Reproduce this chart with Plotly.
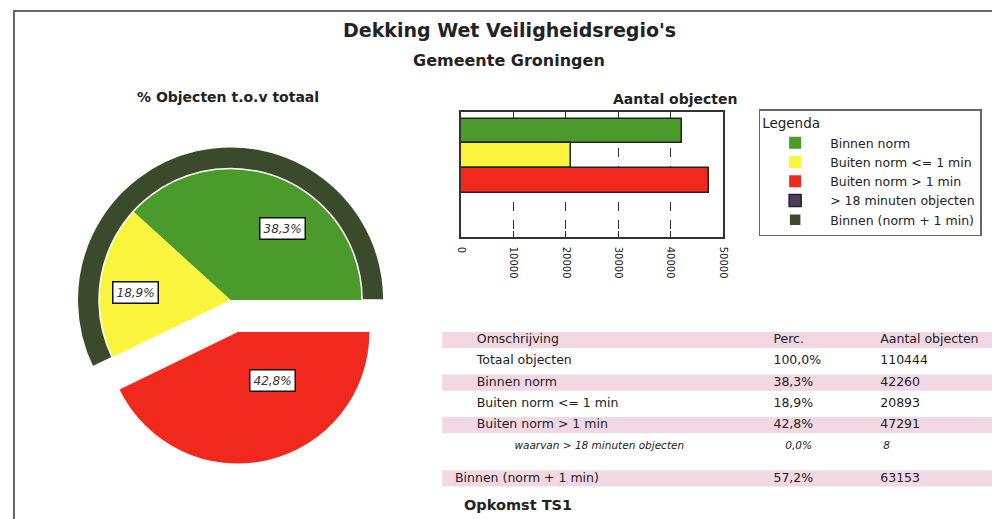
import plotly.graph_objects as go

# browser body margin is 8px, so the figure fills the rest of the 1000x519 window
OFF = 8
W, H = 1000 - OFF, 519 - OFF

# ---------------- data ----------------
categories = ["Binnen norm", "Buiten norm <= 1 min", "Buiten norm > 1 min", "> 18 minuten objecten"]
counts = [42260, 20893, 47291, 8]
percents = [38.3, 18.9, 42.8, 0.0]
total_label = "Totaal objecten"
total_count = 110444
total_pct = 100.0
sub_label = "waarvan > 18 minuten objecten"
combined_label = "Binnen (norm + 1 min)"
combined_count = 63153
combined_pct = 57.2
x_ticks = [0, 10000, 20000, 30000, 40000, 50000]
table_header = ["Omschrijving", "Perc.", "Aantal objecten"]

# ---------------- style ----------------
FONT = "DejaVu Sans"
TXT = "#222222"
GREEN = "#4a9a2c"
YELLOW = "#faf53c"
RED = "#f0281e"
PURPLE = "#4b3f5d"
DKGREEN = "#3a4a2a"
PINK = "#f2d8e2"
bar_colors = [GREEN, YELLOW, RED, PURPLE]


def px(x):
    """screen x (px) -> paper fraction"""
    return (x - OFF) / W


def py(y):
    """screen y (px, from top) -> paper fraction"""
    return 1 - (y - OFF) / H


def fmt_pct(p):
    return f"{p:.1f}".replace(".", ",") + "%"


fig = go.Figure()

# ---- pie: inner slices (red pulled out), counter-clockwise from 3 o'clock ----
cx, cy = 228, 300
r_in, r_out, pull = 133, 155, 0.25
half_in = r_in * (1 + pull)
inner_vals = counts[:3]
inner_rot = 90 - 360 * inner_vals[0] / sum(inner_vals)
fig.add_trace(go.Pie(
    labels=categories[:3], values=inner_vals,
    marker=dict(colors=bar_colors[:3], line=dict(width=0)),
    pull=[0, 0, pull], rotation=inner_rot, direction="counterclockwise", sort=False,
    textinfo="none", hoverinfo="label+value+percent",
    domain=dict(x=[px(cx - half_in), px(cx + half_in)], y=[py(cy + half_in), py(cy - half_in)]),
    legendrank=1,
))
# ---- outer ring: Binnen (norm + 1 min) ----
ring_vals = [combined_count, counts[2]]
ring_rot = 90 - 360 * ring_vals[0] / sum(ring_vals)
fig.add_trace(go.Pie(
    labels=[combined_label, categories[2]], values=ring_vals,
    marker=dict(colors=[DKGREEN, "rgba(0,0,0,0)"], line=dict(color="white", width=[1.5, 0])),
    hole=r_in / r_out, rotation=ring_rot, direction="counterclockwise", sort=False,
    textinfo="none", hoverinfo="label+value",
    domain=dict(x=[px(cx - r_out), px(cx + r_out)], y=[py(cy + r_out), py(cy - r_out)]),
    legendrank=3,
))

# ---- bars ----
for i, (cat, val) in enumerate(zip(categories, counts)):
    fig.add_trace(go.Bar(
        y=[cat], x=[val], orientation="h", name=cat,
        marker=dict(color=bar_colors[i], line=dict(color="#222", width=1.5)),
        showlegend=(i == 3), legendrank=2, xaxis="x", yaxis="y",
        hoverinfo="x+name",
    ))

# ---- summary table (text on a hidden axis pair, rows by index) ----
col_desc = [table_header[0], total_label] + categories[:3] + [sub_label, combined_label]
col_perc = [table_header[1], fmt_pct(total_pct)] + [fmt_pct(p) for p in percents] + [fmt_pct(combined_pct)]
col_cnt = [table_header[2], str(total_count)] + [str(c) for c in counts] + [str(combined_count)]
# layout of the rows / columns
row_pos = [0, 1, 2, 3, 4, 5, 6.5]
row_italic = [False, False, False, False, False, True, False]
row_size = [12.5, 12.5, 12.5, 12.5, 12.5, 10.5, 12.5]
row_band = [True, False, True, False, True, False, True]
col_x = [
    [477, 477, 477, 477, 477, 515, 455],
    [777, 777, 777, 777, 777, 789, 777],
    [885, 885, 885, 885, 885, 888, 885],
]
for xs, texts in zip(col_x, [col_desc, col_perc, col_cnt]):
    fig.add_trace(go.Scatter(
        x=xs, y=row_pos, mode="text",
        text=[("<i>" + t + "</i>") if it else t for t, it in zip(texts, row_italic)],
        textposition="middle right", marker=dict(size=0.1),
        textfont=dict(family=FONT, size=row_size, color=TXT),
        xaxis="x2", yaxis="y2", showlegend=False, hoverinfo="skip", cliponaxis=False,
    ))

row_h = 21.3
row0_y = 340
band_half = 0.38
shapes = [dict(type="rect", xref="paper", yref="y2", x0=px(442), x1=1,
               y0=r - band_half, y1=r + band_half, fillcolor=PINK, line=dict(width=0),
               layer="below")
          for r, b in zip(row_pos, row_band) if b]
shapes.append(dict(type="path", xref="paper", yref="paper",
                   path=f"M {px(9)},0 L {px(9)},{py(11)} L 1,{py(11)}",
                   line=dict(color="#666", width=2)))

# ---- annotations ----
ann = [
    dict(text="Dekking Wet Veiligheidsregio's", x=510, y=30, size=19),
    dict(text="Gemeente Groningen", x=510, y=60, size=16),
    dict(text="% Objecten t.o.v totaal", x=225, y=97, size=14),
    dict(text="Opkomst TS1", x=462, y=505, size=14.5, xanchor="left"),
    dict(text="Aantal objecten", x=742, y=99, size=14, xanchor="right"),
]
annotations = []
for a in ann:
    annotations.append(dict(
        text="<b>" + a["text"] + "</b>",
        x=px(a["x"]), y=py(a["y"]), xref="paper", yref="paper", showarrow=False,
        xanchor=a.get("xanchor", "center"), yanchor="middle",
        font=dict(family=FONT, size=a["size"], color=TXT),
    ))
label_pos = [(281, 229), (132, 292), (270, 380)]
for p, (lx, ly) in zip(percents[:3], label_pos):
    annotations.append(dict(
        text="<i>" + fmt_pct(p) + "</i>", x=px(lx), y=py(ly), xref="paper", yref="paper",
        showarrow=False, xanchor="center", yanchor="middle",
        bgcolor="white", bordercolor="#111", borderwidth=1.5, borderpad=3,
        font=dict(family=FONT, size=12, color="#333"),
    ))

y2_top = row0_y - row_h / 2
y2_bot = row0_y + row_h * 6.5 + row_h / 2
fig.update_layout(
    width=W, height=H,
    margin=dict(l=0, r=0, t=0, b=0),
    paper_bgcolor="white", plot_bgcolor="rgba(0,0,0,0)",
    barmode="overlay", bargap=0,
    xaxis=dict(domain=[px(461), px(726)], range=[0, 50000], tickvals=x_ticks, tickformat="d",
               tickangle=90, showgrid=True, gridcolor="#333", gridwidth=1.3, griddash="dash",
               showline=True, linecolor="#333", linewidth=1.5, mirror="ticks",
               ticks="inside", ticklen=6, tickcolor="#333", zeroline=False,
               tickfont=dict(family=FONT, size=10, color=TXT), anchor="y",
               ticklabelstandoff=6, fixedrange=True),
    yaxis=dict(domain=[py(237), py(112)], type="category",
               categoryorder="array", categoryarray=categories,
               range=[4.29, -0.77], showticklabels=False, ticks="",
               showline=True, linecolor="#333", linewidth=1.5, mirror=True,
               showgrid=False, zeroline=False, anchor="x", fixedrange=True),
    xaxis2=dict(domain=[0, 1], range=[OFF, 1000], visible=False, anchor="y2", fixedrange=True),
    yaxis2=dict(domain=[py(y2_bot), py(y2_top)], range=[7, -0.5], visible=False,
                anchor="x2", fixedrange=True),
    legend=dict(x=px(762), y=py(109), xanchor="left", yanchor="top",
                bordercolor="#666", borderwidth=1.5, bgcolor="white",
                font=dict(family=FONT, size=12.5, color=TXT),
                title=dict(text="Legenda", font=dict(family=FONT, size=13.5, color=TXT)),
                itemwidth=60, tracegroupgap=0, traceorder="normal"),
    annotations=annotations,
    shapes=shapes,
)

fig.write_html("out.html")
